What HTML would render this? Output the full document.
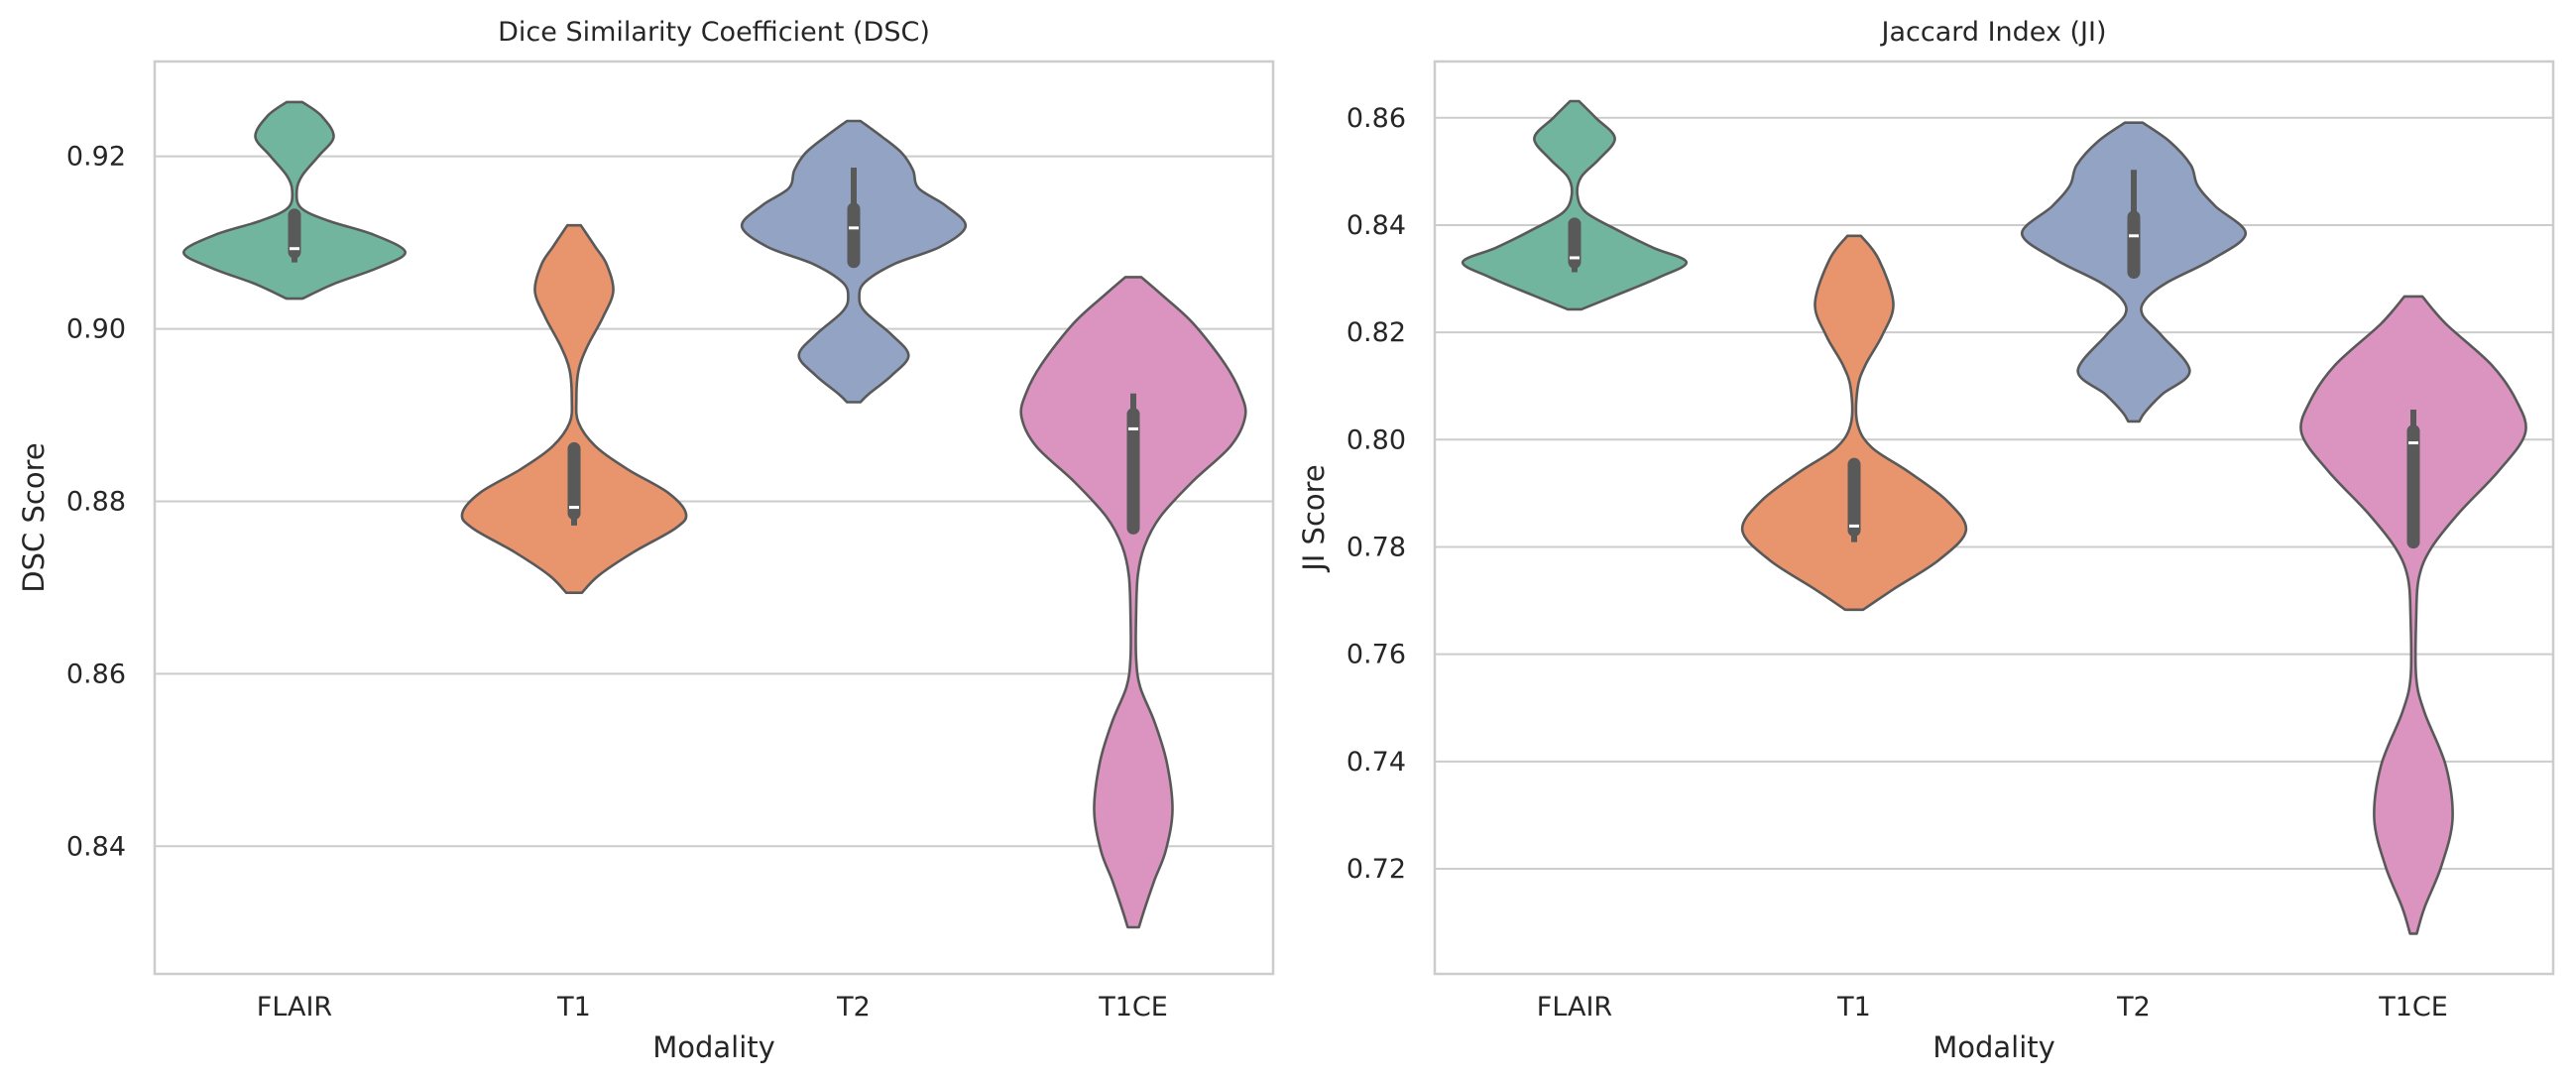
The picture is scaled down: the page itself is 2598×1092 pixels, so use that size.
<!DOCTYPE html>
<html><head><meta charset="utf-8"><style>
html,body{margin:0;padding:0;background:#fff;}
svg{display:block;font-family:"DejaVu Sans","Liberation Sans",sans-serif;}
</style></head><body>
<svg id="chart" width="2598" height="1092" viewBox="0 0 2598 1092"></svg>
<script>
const categories = ["FLAIR","T1","T2","T1CE"];
const colors = ["#72b59f","#e8946d","#92a3c4","#da94bf"];
const dscTicks = [0.84,0.86,0.88,0.90,0.92];
const jiTicks = [0.72,0.74,0.76,0.78,0.80,0.82,0.84,0.86];
// violin profiles: values and relative half-widths
const dscFlairV = [0.9263,0.9247,0.9223,0.9201,0.9178,0.9160,0.9140,0.9125,0.9109,0.9089,0.9071,0.9052,0.9035];
const dscFlairW = [0.07,0.24,0.35,0.22,0.07,0.02,0.06,0.31,0.71,0.99,0.75,0.35,0.07];
const dscT1V = [0.9120,0.9095,0.9075,0.9044,0.9014,0.8980,0.8952,0.8918,0.8891,0.8864,0.8837,0.8810,0.8786,0.8769,0.8741,0.8714,0.8694];
const dscT1W = [0.06,0.19,0.29,0.35,0.26,0.12,0.04,0.02,0.04,0.19,0.48,0.84,1.0,0.91,0.53,0.22,0.07];
const dscT2V = [0.9241,0.9224,0.9204,0.9184,0.9163,0.9143,0.9119,0.9095,0.9075,0.9054,0.9037,0.9020,0.8993,0.8969,0.8946,0.8925,0.8915];
const dscT2W = [0.06,0.24,0.43,0.53,0.58,0.82,1.0,0.77,0.36,0.10,0.05,0.10,0.34,0.49,0.34,0.14,0.06];
const dscT1ceV = [0.9060,0.9041,0.9007,0.8959,0.8925,0.8898,0.8864,0.8823,0.8782,0.8748,0.8714,0.8667,0.8619,0.8585,0.8544,0.8497,0.8442,0.8395,0.8361,0.8327,0.8306];
const dscT1ceW = [0.07,0.24,0.53,0.82,0.96,1.0,0.87,0.53,0.24,0.10,0.04,0.025,0.025,0.06,0.19,0.30,0.35,0.29,0.19,0.10,0.05];
const jiFlairV = [0.8631,0.8600,0.8562,0.8523,0.8490,0.8457,0.8424,0.8391,0.8358,0.8331,0.8303,0.8270,0.8243];
const jiFlairW = [0.04,0.19,0.36,0.22,0.06,0.025,0.10,0.38,0.70,1.0,0.76,0.38,0.06];
const jiT1V = [0.8380,0.8336,0.8254,0.8194,0.8139,0.8095,0.8029,0.7985,0.7941,0.7886,0.7831,0.7776,0.7721,0.7683];
const jiT1W = [0.06,0.22,0.35,0.25,0.10,0.03,0.03,0.16,0.48,0.83,1.0,0.76,0.35,0.08];
const jiT2V = [0.8591,0.8556,0.8512,0.8474,0.8435,0.8384,0.8336,0.8292,0.8260,0.8232,0.8194,0.8128,0.8084,0.8051,0.8034];
const jiT2W = [0.08,0.32,0.51,0.57,0.73,1.0,0.70,0.29,0.10,0.08,0.25,0.50,0.25,0.10,0.05];
const jiT1ceV = [0.8267,0.8216,0.8139,0.8073,0.8012,0.7941,0.7864,0.7798,0.7743,0.7666,0.7557,0.7491,0.7392,0.7293,0.7205,0.7128,0.7079];
const jiT1ceW = [0.08,0.29,0.70,0.92,1.0,0.76,0.41,0.16,0.05,0.025,0.025,0.10,0.29,0.35,0.25,0.10,0.03];
// inner box stats: [whiskerLow, q1, median, q3, whiskerHigh]
const dscBox = [[0.9077,0.9089,0.9093,0.9132,0.9132],[0.8772,0.8786,0.8793,0.8861,0.8861],[0.9078,0.9078,0.9117,0.9139,0.9187],[0.8769,0.8769,0.8884,0.8901,0.8925]];
const jiBox = [[0.8312,0.8331,0.8339,0.8402,0.8402],[0.7809,0.7831,0.7839,0.7954,0.7954],[0.8312,0.8312,0.8380,0.8415,0.8503],[0.7809,0.7809,0.7994,0.8016,0.8056]];

const NS="http://www.w3.org/2000/svg";
const svg=document.getElementById('chart');
function mk(tag,attrs,parent){const e=document.createElementNS(NS,tag);for(const k in attrs)e.setAttribute(k,attrs[k]);(parent||svg).appendChild(e);return e;}

function smoothSide(pts){
  // Catmull-Rom to bezier through pts
  let d="";
  for(let i=0;i<pts.length-1;i++){
    const p0=pts[Math.max(0,i-1)],p1=pts[i],p2=pts[i+1],p3=pts[Math.min(pts.length-1,i+2)];
    const c1=[p1[0]+(p2[0]-p0[0])/6,p1[1]+(p2[1]-p0[1])/6];
    const c2=[p2[0]-(p3[0]-p1[0])/6,p2[1]-(p3[1]-p1[1])/6];
    d+=` C${c1[0].toFixed(1)},${c1[1].toFixed(1)} ${c2[0].toFixed(1)},${c2[1].toFixed(1)} ${p2[0].toFixed(1)},${p2[1].toFixed(1)}`;
  }
  return d;
}

function panel(opt){
  const {left,right,top,bottom,ymin,ymax,ticks,title,ylabel,profiles,boxes,name}=opt;
  const g=mk('g',{});
  
  
  const H=bottom-top, band=(right-left)/categories.length;
  const y=v=>top+(ymax-v)/(ymax-ymin)*H;
  const x=i=>left+band*(i+0.5);
  const maxHalf=band*0.4;
  ticks.forEach(t=>{
    const gl=mk('line',{x1:left,x2:right,y1:y(t),y2:y(t),stroke:'#cccccc','stroke-width':2},g);
    
    
    const tl=mk('text',{x:left-29,y:y(t)+9,'text-anchor':'end','font-size':27,fill:'#262626'},g);
    tl.textContent=t.toFixed(2);
    
    
  });
  const fr=mk('rect',{x:left,y:top,width:right-left,height:H,fill:'none',stroke:'#cccccc','stroke-width':2.5},g);
  
  
  profiles.forEach((pr,i)=>{
    const cx=x(i);
    const R=pr[0].map((v,k)=>[cx+pr[1][k]*maxHalf,y(v)]);
    const L=pr[0].map((v,k)=>[cx-pr[1][k]*maxHalf,y(v)]).reverse();
    let d=`M${R[0][0].toFixed(1)},${R[0][1].toFixed(1)}`+smoothSide(R)+` L${L[0][0].toFixed(1)},${L[0][1].toFixed(1)}`+smoothSide(L)+" Z";
    const p=mk('path',{d:d,fill:colors[i],stroke:'#595959','stroke-width':2.6,'stroke-linejoin':'round'},g);
    
    
    const b=boxes[i];
    const w=mk('line',{x1:cx,x2:cx,y1:y(b[0]),y2:y(b[4]),stroke:'#595959','stroke-width':6,'stroke-linecap':'butt'},g);
    
    
    const bx=mk('line',{x1:cx,x2:cx,y1:y(b[1]),y2:y(b[3]),stroke:'#595959','stroke-width':13,'stroke-linecap':'round'},g);
    
    
    const md=mk('line',{x1:cx-5,x2:cx+5,y1:y(b[2]),y2:y(b[2]),stroke:'#ffffff','stroke-width':3},g);
    
    
    const xl=mk('text',{x:cx,y:bottom+42,'text-anchor':'middle','font-size':27,fill:'#262626'},g);
    xl.textContent=categories[i];
    
    
  });
  const tt=mk('text',{x:(left+right)/2,y:top-21,'text-anchor':'middle','font-size':27,fill:'#262626'},g);
  tt.textContent=title;
  
  
  const xt=mk('text',{x:(left+right)/2,y:bottom+84,'text-anchor':'middle','font-size':29,fill:'#262626'},g);
  xt.textContent='Modality';
  
  
  const cy=(top+bottom)/2, lx=left-112;
  const yt=mk('text',{x:lx,y:cy,'text-anchor':'middle','font-size':29,fill:'#262626',transform:`rotate(-90 ${lx} ${cy})`},g);
  yt.textContent=ylabel;
  
  
}

panel({name:'dsc-panel',left:156,right:1284,top:62,bottom:982,ymin:0.8252,ymax:0.931,ticks:dscTicks,
  title:'Dice Similarity Coefficient (DSC)',ylabel:'DSC Score',
  profiles:[[dscFlairV,dscFlairW],[dscT1V,dscT1W],[dscT2V,dscT2W],[dscT1ceV,dscT1ceW]],boxes:dscBox});
panel({name:'ji-panel',left:1447,right:2575,top:62,bottom:982,ymin:0.7004,ymax:0.8705,ticks:jiTicks,
  title:'Jaccard Index (JI)',ylabel:'JI Score',
  profiles:[[jiFlairV,jiFlairW],[jiT1V,jiT1W],[jiT2V,jiT2W],[jiT1ceV,jiT1ceW]],boxes:jiBox});
</script>
</body></html>
